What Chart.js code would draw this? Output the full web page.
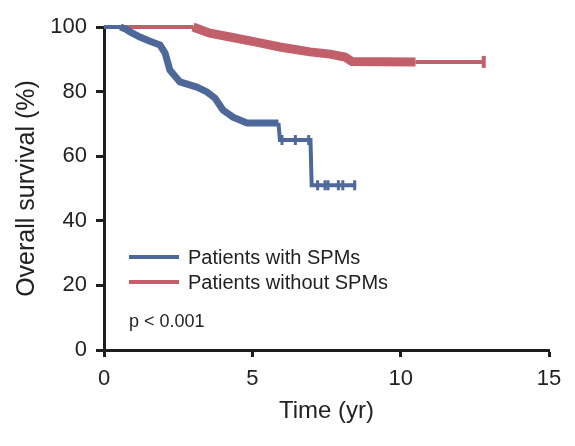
<!DOCTYPE html>
<html>
<head>
<meta charset="utf-8">
<script src="https://cdn.jsdelivr.net/npm/chart.js@4.4.0/dist/chart.umd.min.js"></script>
<style>
  html, body { margin: 0; padding: 0; background: #fff; }
  #wrap { width: 575px; height: 446px; }
</style>
</head>
<body>
<div id="wrap"><canvas id="c" width="575" height="446"></canvas></div>
<script>
// ---- data ----
const seriesLabels = ["Patients with SPMs", "Patients without SPMs"];
const pValueText = "p < 0.001";
const xTicks = [0, 5, 10, 15];
const yTicks = [0, 20, 40, 60, 80, 100];

const withTime = [0, 0.55, 0.7, 0.88, 1.21, 1.55, 1.89, 2.06, 2.22, 2.56, 3.13, 3.47, 3.74, 4.01, 4.35, 4.82, 5.36, 5.88, 5.93, 6.96, 7.0, 8.5];
const withSurv = [100, 100, 99.5, 98.5, 96.9, 95.6, 94.4, 91.9, 86.7, 83.0, 81.4, 79.9, 78.0, 74.3, 72.1, 70.3, 70.3, 70.3, 65.0, 65.0, 51.0, 51.0];
const withCensorTime = [6.0, 6.45, 6.9, 7.2, 7.45, 7.55, 7.9, 8.05, 8.45];
const withCensorSurv = [65, 65, 65, 51, 51, 51, 51, 51, 51];

const withoutTime = [0, 3.0, 3.57, 4.25, 5.09, 5.93, 6.94, 7.62, 8.12, 8.36, 10.5, 12.8];
const withoutSurv = [100, 100, 98.1, 96.9, 95.4, 93.8, 92.3, 91.6, 90.7, 89.3, 89.2, 89.2];
const withoutCensorTime = [12.8];
const withoutCensorSurv = [89.2];

// ---- styling ----
const BLUE = "#4e6899";
const RED = "#c15f6a";
const AXIS = "#1e1e1e";
const FONT = '"Liberation Sans", Arial, sans-serif';

const toPts = (xs, ys) => xs.map((x, i) => ({ x: x, y: ys[i] }));

function bandWidth(lo, hi, thick, thin) {
  return ctx => {
    const x0 = ctx.p0.parsed.x, x1 = ctx.p1.parsed.x;
    return (x0 >= lo && x1 <= hi) ? thick : thin;
  };
}

const legendPlugin = {
  id: 'kmLegend',
  afterDraw(chart) {
    const ctx = chart.ctx;
    const colors = [BLUE, RED];
    const rows = [257, 282];
    ctx.save();
    ctx.font = '20px ' + FONT;
    ctx.textBaseline = 'middle';
    ctx.textAlign = 'left';
    seriesLabels.forEach((lab, i) => {
      ctx.strokeStyle = colors[i];
      ctx.lineWidth = 4;
      ctx.beginPath();
      ctx.moveTo(129, rows[i]);
      ctx.lineTo(179, rows[i]);
      ctx.stroke();
      ctx.fillStyle = '#222';
      ctx.fillText(lab, 188, rows[i] + 1);
    });
    ctx.font = '18px ' + FONT;
    ctx.fillText(pValueText, 129, 322);
    ctx.restore();
  }
};

new Chart(document.getElementById('c'), {
  type: 'line',
  data: {
    datasets: [
      {
        label: seriesLabels[0],
        data: toPts(withTime, withSurv),
        borderColor: BLUE,
        borderWidth: 4,
        pointRadius: 0,
        tension: 0,
        clip: false,
        segment: { borderWidth: bandWidth(0.5, 5.9, 7, 4) }
      },
      {
        label: seriesLabels[1],
        data: toPts(withoutTime, withoutSurv),
        borderColor: RED,
        borderWidth: 4,
        pointRadius: 0,
        tension: 0,
        clip: false,
        segment: { borderWidth: bandWidth(3.0, 10.5, 9, 4) }
      },
      {
        label: 'censor-with',
        type: 'scatter',
        data: toPts(withCensorTime, withCensorSurv),
        pointStyle: 'line',
        rotation: 90,
        pointRadius: 5,
        borderWidth: 3,
        borderColor: BLUE,
        backgroundColor: BLUE,
        clip: false
      },
      {
        label: 'censor-without',
        type: 'scatter',
        data: toPts(withoutCensorTime, withoutCensorSurv),
        pointStyle: 'line',
        rotation: 90,
        pointRadius: 6,
        borderWidth: 4,
        borderColor: RED,
        backgroundColor: RED,
        clip: false
      }
    ]
  },
  options: {
    responsive: false,
    animation: false,
    layout: { padding: { top: 27, right: 26, left: 0, bottom: 0 } },
    plugins: {
      legend: { display: false },
      tooltip: { enabled: false }
    },
    scales: {
      x: {
        type: 'linear',
        min: 0, max: 15,
        afterFit: s => { s.height = 96; },
        afterBuildTicks: s => { s.ticks = xTicks.map(v => ({ value: v })); },
        grid: { drawOnChartArea: false, drawTicks: true, tickLength: 7, tickWidth: 3, tickColor: AXIS },
        border: { display: true, width: 3, color: AXIS },
        ticks: { color: '#222', font: { family: FONT, size: 22 }, padding: 9, maxRotation: 0 },
        title: { display: true, text: 'Time (yr)', color: '#222', font: { family: FONT, size: 24 }, padding: { top: 0, bottom: 20 } }
      },
      y: {
        type: 'linear',
        min: 0, max: 100,
        afterFit: s => { s.width = 104; },
        afterBuildTicks: s => { s.ticks = yTicks.map(v => ({ value: v })); },
        grid: { drawOnChartArea: false, drawTicks: true, tickLength: 8, tickWidth: 3, tickColor: AXIS },
        border: { display: true, width: 3, color: AXIS },
        ticks: { color: '#222', font: { family: FONT, size: 22 }, padding: 9 },
        title: { display: true, text: 'Overall survival (%)', color: '#222', font: { family: FONT, size: 25 }, padding: { top: 12, bottom: 0 } }
      }
    }
  },
  plugins: [legendPlugin]
});
</script>
</body>
</html>
